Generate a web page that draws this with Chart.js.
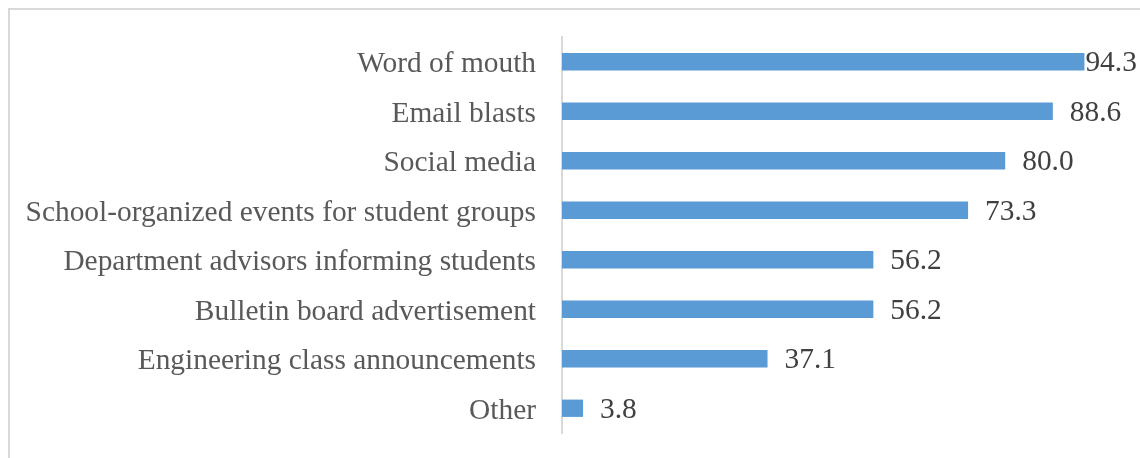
<!DOCTYPE html>
<html>
<head>
<meta charset="utf-8">
<script src="https://cdn.jsdelivr.net/npm/chart.js@4/dist/chart.umd.min.js"></script>
<style>
  body { margin: 0; background: #fff; }
  #wrap { position: relative; width: 1140px; height: 458px; }
  #frame { position: absolute; left: 8px; top: 8px; right: 0; bottom: 0;
           border-left: 2px solid #d9d9d9; border-top: 2px solid #d9d9d9; }
  canvas { position: absolute; left: 0; top: 0; }
</style>
</head>
<body>
<div id="wrap">
  <div id="frame"></div>
  <canvas id="chart" width="1140" height="458"></canvas>
</div>
<script>
const categories = [
    'Word of mouth',
    'Email blasts',
    'Social media',
    'School-organized events for student groups',
    'Department advisors informing students',
    'Bulletin board advertisement',
    'Engineering class announcements',
    'Other'
];
const values = [94.3, 88.6, 80.0, 73.3, 56.2, 56.2, 37.1, 3.8];
const axisMin = 0;
const axisMax = 100;

const FONT = '"Liberation Serif", "Times New Roman", serif';

// value labels to the right of each bar
const valueLabels = {
    id: 'valueLabels',
    afterDatasetsDraw(chart) {
        const ctx = chart.ctx;
        const meta = chart.getDatasetMeta(0);
        ctx.save();
        ctx.font = '29.4px ' + FONT;
        ctx.fillStyle = '#404040';
        ctx.textBaseline = 'middle';
        ctx.textAlign = 'left';
        meta.data.forEach((bar, i) => {
            const txt = values[i].toFixed(1);
            const w = ctx.measureText(txt).width;
            let x = bar.x + 17;
            if (x + w > chart.width - 5) x = Math.max(bar.x + 1, chart.width - 5 - w);
            ctx.fillText(txt, x, bar.y + 2);
        });
        ctx.restore();
    }
};

const ctx = document.getElementById('chart').getContext('2d');
new Chart(ctx, {
    type: 'bar',
    data: {
        labels: categories,
        datasets: [{
            data: values,
            backgroundColor: '#5b9bd5',
            borderWidth: 0,
            categoryPercentage: 1,
            barPercentage: 0.35
        }]
    },
    options: {
        indexAxis: 'y',
        responsive: false,
        animation: false,
        layout: { padding: { top: 37, bottom: 25, right: 24, left: 0 } },
        plugins: {
            legend: { display: false },
            tooltip: { enabled: false }
        },
        scales: {
            x: {
                display: false,
                min: axisMin,
                max: axisMax
            },
            y: {
                afterFit(scale) {
                    scale.width = 562;
                    scale.paddingTop = 0;
                    scale.paddingBottom = 0;
                },
                grid: { display: false, drawTicks: false },
                border: { display: true, color: '#d9d9d9', width: 2 },
                ticks: {
                    padding: 26,
                    labelOffset: 3,
                    color: '#595959',
                    font: { family: FONT, size: 29.4 }
                }
            }
        }
    },
    plugins: [valueLabels]
});
</script>
</body>
</html>
